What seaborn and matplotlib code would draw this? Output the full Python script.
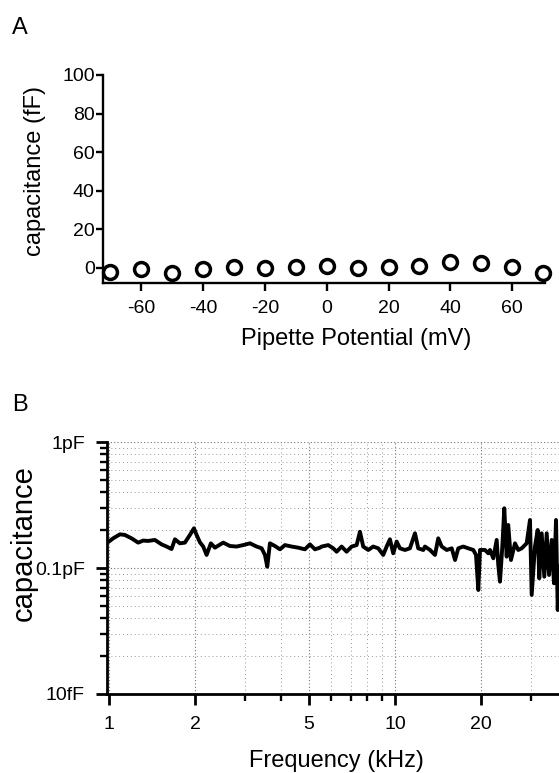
import seaborn as sns
import matplotlib.pyplot as plt
import matplotlib.ticker as mticker
import numpy as np
import pandas as pd

# panel A: capacitance vs pipette potential
potential_mv = [-70, -60, -50, -40, -30, -20, -10, 0, 10, 20, 30, 40, 50, 60, 70]
cap_ff = [-2.0, -0.5, -2.5, -0.5, 0.7, -0.3, 0.7, 1.2, -0.3, 0.2, 1.2, 3.0, 2.4, 0.7, -2.8]

# panel B: capacitance spectrum (pF)
freq_khz = [1.0, 1.035, 1.093, 1.137, 1.20, 1.266, 1.318, 1.372, 1.448, 1.528,
            1.591, 1.656, 1.702, 1.771, 1.844, 1.920, 1.983, 2.026, 2.081, 2.137,
            2.196, 2.273, 2.348, 2.51, 2.649, 2.796, 2.949, 3.112, 3.284, 3.42,
            3.512, 3.578, 3.656, 3.805, 3.963, 4.125, 4.353, 4.59, 4.845, 5.045,
            5.253, 5.469, 5.544, 5.845, 6.085, 6.253, 6.511, 6.777, 7.056, 7.346,
            7.545, 7.746, 8.065, 8.397, 8.742, 9.10, 9.354, 9.605, 9.863, 10.14,
            10.41, 10.84, 11.28, 11.75, 12.06, 12.56, 12.73, 13.26, 13.80, 14.17,
            14.57, 15.17, 15.79, 16.22, 16.65, 17.33, 18.04, 18.79, 19.20, 19.56,
            19.83, 20.64, 21.20, 21.49, 22.07, 22.68, 22.97, 23.29, 23.73, 24.11,
            24.58, 24.89, 25.44, 26.28, 26.98, 27.73, 28.87, 29.65, 30.06, 30.86,
            31.55, 31.95, 32.58, 33.27, 33.92, 34.56, 35.32, 35.97, 36.56, 37.07,
            37.45]
cap_pf = [0.162, 0.172, 0.185, 0.183, 0.172, 0.159, 0.165, 0.164, 0.167, 0.154,
          0.148, 0.1415, 0.169, 0.157, 0.159, 0.183, 0.2066, 0.183, 0.160, 0.148,
          0.127, 0.157, 0.145, 0.159, 0.1495, 0.148, 0.152, 0.157, 0.148, 0.1433,
          0.127, 0.1024, 0.157, 0.1495, 0.1407, 0.152, 0.148, 0.145, 0.1407, 0.154,
          0.1407, 0.145, 0.148, 0.152, 0.1433, 0.1347, 0.148, 0.1347, 0.148, 0.152,
          0.194, 0.148, 0.139, 0.148, 0.1433, 0.127, 0.148, 0.169, 0.1308, 0.162,
          0.1433, 0.139, 0.1433, 0.1886, 0.1433, 0.139, 0.148, 0.139, 0.127, 0.172,
          0.148, 0.139, 0.1433, 0.1157, 0.1433, 0.148, 0.1433, 0.139, 0.127, 0.0669,
          0.139, 0.139, 0.1308, 0.139, 0.1194, 0.167, 0.1057, 0.0779, 0.148, 0.298,
          0.123, 0.2195, 0.1157, 0.157, 0.139, 0.1433, 0.157, 0.2404, 0.0611, 0.148,
          0.2003, 0.0828, 0.1886, 0.0853, 0.1886, 0.088, 0.167, 0.0756, 0.2404, 0.0464,
          0.1024]

df_a = pd.DataFrame({"potential": potential_mv, "cap": cap_ff})
df_b = pd.DataFrame({"freq": freq_khz, "cap": cap_pf})

sns.set_style("ticks")
plt.rcParams['font.family'] = ['Liberation Sans', 'DejaVu Sans']
plt.rcParams['axes.unicode_minus'] = False
plt.rcParams['text.color'] = 'black'
plt.rcParams['axes.labelcolor'] = 'black'
plt.rcParams['xtick.color'] = 'black'
plt.rcParams['ytick.color'] = 'black'
plt.rcParams['axes.edgecolor'] = 'black'

fig = plt.figure(figsize=(5.59, 7.73), dpi=100)

# ---- panel A
ax1 = fig.add_axes([0.1843, 0.634, 0.7907, 0.269])
sns.scatterplot(data=df_a, x="potential", y="cap", ax=ax1, s=100,
                facecolor="white", edgecolor="black", linewidth=2.5, zorder=3, clip_on=False)
ax1.set_xlim(-72.3, 70.6)
ax1.set_ylim(-7.8, 100)
ax1.set_xticks([-60, -40, -20, 0, 20, 40, 60])
ax1.set_yticks([0, 20, 40, 60, 80, 100])
ax1.set_xlabel("Pipette Potential (mV)", fontsize=17)
ax1.set_ylabel("capacitance (fF)", fontsize=17)
ax1.xaxis.set_label_coords(0.572, -0.218)
ax1.yaxis.set_label_coords(-0.129, 0.538)
sns.despine(ax=ax1)
for sp in ax1.spines.values():
    sp.set_linewidth(1.7)
ax1.tick_params(axis="both", labelsize=14, width=1.7, length=5, pad=1)
ax1.tick_params(axis="x", length=6, pad=6)

# ---- panel B
ax2 = fig.add_axes([0.1914, 0.1022, 0.8086, 0.326])
sns.lineplot(data=df_b, x="freq", y="cap", ax=ax2, color="black", linewidth=2.8,
             estimator=None, sort=False)
ax2.set_xscale("log")
ax2.set_yscale("log")
ax2.set_xlim(0.985, 37.45)
ax2.set_ylim(0.01, 1)
ax2.xaxis.set_major_locator(mticker.FixedLocator([1, 2, 5, 10, 20]))
ax2.xaxis.set_major_formatter(mticker.FixedFormatter(["1", "2", "5", "10", "20"]))
ax2.xaxis.set_minor_locator(mticker.FixedLocator([3, 4, 6, 7, 8, 9, 30]))
ax2.xaxis.set_minor_formatter(mticker.NullFormatter())
ax2.yaxis.set_major_locator(mticker.FixedLocator([0.01, 0.1, 1]))
ax2.yaxis.set_major_formatter(mticker.FixedFormatter(["10fF", "0.1pF", "1pF"]))
ax2.yaxis.set_minor_locator(mticker.LogLocator(base=10, subs=np.arange(2, 10)))
ax2.yaxis.set_minor_formatter(mticker.NullFormatter())
ax2.grid(which="major", linestyle=(0, (1, 2)), color="0.45", linewidth=0.8)
ax2.grid(which="minor", linestyle=(0, (1, 3)), color="0.6", linewidth=0.7)
ax2.set_xlabel("Frequency (kHz)", fontsize=17)
ax2.set_ylabel("capacitance", fontsize=21)
ax2.xaxis.set_label_coords(0.507, -0.222)
ax2.yaxis.set_label_coords(-0.153, 0.60)
sns.despine(ax=ax2)
for sp in ax2.spines.values():
    sp.set_linewidth(2.0)
ax2.tick_params(axis="both", which="major", labelsize=14, width=2.0, length=8)
ax2.tick_params(axis="both", which="minor", width=1.7, length=5)
ax2.tick_params(axis="y", which="major", pad=8)
ax2.tick_params(axis="x", which="major", pad=8)

fig.text(0.022, 0.956, "A", fontsize=17)
fig.text(0.022, 0.468, "B", fontsize=17)

fig.savefig("out.png", dpi=100)
